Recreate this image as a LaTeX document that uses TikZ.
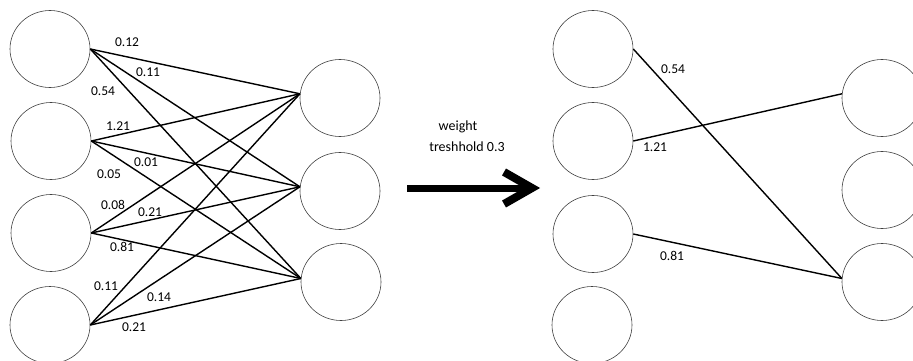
\documentclass[tikz,border=0pt]{standalone}
\usepackage{fontspec}
\setmainfont{Carlito}
\usetikzlibrary{shapes.geometric}
\begin{document}
\begin{tikzpicture}[x=1pt,y=-1pt,
  neuron/.style={draw=black!75, line width=0.6pt, ellipse, minimum width=80pt, minimum height=77pt, inner sep=0pt},
  wire/.style={draw=black, line width=1.4pt},
  wlabel/.style={font=\fontsize{13.5}{15}\selectfont, inner sep=0pt, text=black},
  note/.style={font=\fontsize{14}{16}\selectfont, inner sep=0pt, text=black},
  bigarrow/.style={draw=black, line width=7pt},
  bighead/.style={draw=black, line width=8pt, miter limit=10}]
\useasboundingbox (0,0) rectangle (913,361);
% left network
\node[neuron] (a1) at (50,49) {};
\node[neuron] (a2) at (51,141) {};
\node[neuron] (a3) at (51,233) {};
\node[neuron] (a4) at (50,325) {};
\node[neuron] (b1) at (340,98) {};
\node[neuron] (b2) at (340,191) {};
\node[neuron] (b3) at (341,282) {};
\foreach \i in {1,2,3,4}{
  \draw[wire] (a\i.east) -- (b1.174);
  \draw[wire] (a\i.east) -- (b2.174);
  \draw[wire] (a\i.east) -- (b3.175);
}
\node[wlabel] (l1) at (127,42) {0.12};
\node[wlabel] (l2) at (148,72) {0.11};
\node[wlabel] (l3) at (103,91) {0.54};
\node[wlabel] (l4) at (118,126) {1.21};
\node[wlabel] (l5) at (146,162) {0.01};
\node[wlabel] (l6) at (109,174) {0.05};
\node[wlabel] (l7) at (113,205) {0.08};
\node[wlabel] (l8) at (150,212) {0.21};
\node[wlabel] (l9) at (122,247) {0.81};
\node[wlabel] (l10) at (106,286) {0.11};
\node[wlabel] (l11) at (159,297) {0.14};
\node[wlabel] (l12) at (134,327) {0.21};
% arrow and note
\node[note] (t1) at (458,127) {weight};
\node[note] (t2) at (467,147) {treshhold 0.3};
\coordinate (as) at (407,188);
\coordinate (ae) at (530,188);
\coordinate (au) at (504,172);
\coordinate (ad) at (504,204);
\coordinate (av) at (532,188);
\draw[bigarrow] (as) -- (ae);
\draw[bighead] (au) -- (av) -- (ad);
% pruned network
\node[neuron] (c1) at (593,49) {};
\node[neuron] (c2) at (593,141) {};
\node[neuron] (c3) at (593,234) {};
\node[neuron] (c4) at (592,325) {};
\node[neuron] (d1) at (882,98) {};
\node[neuron] (d2) at (882,190) {};
\node[neuron] (d3) at (882,282) {};
\draw[wire] (c1.east) -- (d3.175);
\draw[wire] (c2.east) -- (d1.174);
\draw[wire] (c3.east) -- (d3.175);
\node[wlabel] (m1) at (673,69) {0.54};
\node[wlabel] (m2) at (655,147) {1.21};
\node[wlabel] (m3) at (672,256) {0.81};
\end{tikzpicture}
\end{document}
